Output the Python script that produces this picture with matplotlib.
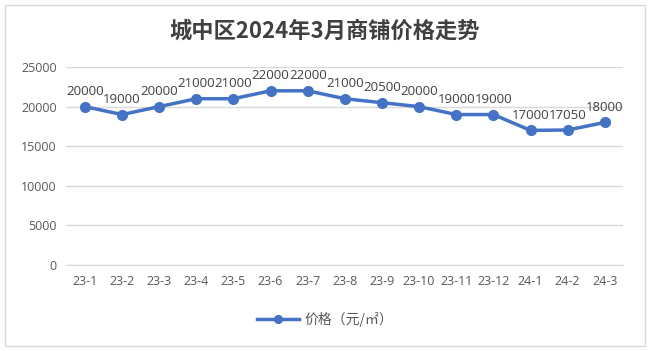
import matplotlib
matplotlib.use("Agg")
import matplotlib.pyplot as plt
from matplotlib.patches import Rectangle

plt.rcParams['font.family'] = ['Noto Sans CJK SC', 'DejaVu Sans']

months = ["23-1", "23-2", "23-3", "23-4", "23-5", "23-6", "23-7", "23-8",
          "23-9", "23-10", "23-11", "23-12", "24-1", "24-2", "24-3"]
prices = [20000, 19000, 20000, 21000, 21000, 22000, 22000, 21000,
          20500, 20000, 19000, 19000, 17000, 17050, 18000]
yticks = [0, 5000, 10000, 15000, 20000, 25000]

BLUE = "#4472C4"
GRID = "#d9d9d9"
TEXT = "#595959"

fig = plt.figure(figsize=(6.5, 3.51), dpi=100)
fig.patches.append(Rectangle((0.008, 0.014), 0.984, 0.972, transform=fig.transFigure,
                             fill=False, edgecolor=GRID, linewidth=1))
ax = fig.add_axes([0.102, 0.245, 0.857, 0.564])

x = list(range(len(months)))
ax.plot(x, prices, color=BLUE, linewidth=2.5, marker="o", markersize=7,
        label="价格（元/㎡）", zorder=3)
for xi, v in zip(x, prices):
    ax.annotate(str(v), (xi, v), xytext=(0, 6), textcoords="offset points",
                ha="center", va="bottom", fontsize=9.5, color="#404040",
                family=["Open Sans", "DejaVu Sans"])

ax.set_xlim(-0.5, len(months) - 0.5)
ax.set_ylim(0, 25000)
ax.set_yticks(yticks)
ax.set_xticks(x)
ax.set_xticklabels(months)
ax.grid(axis="y", color=GRID, linewidth=1)
ax.set_axisbelow(True)
for s in ["top", "right", "left"]:
    ax.spines[s].set_visible(False)
ax.spines["bottom"].set_color(GRID)
ax.tick_params(length=0, labelsize=9, colors=TEXT, pad=7)
for lbl in ax.get_xticklabels() + ax.get_yticklabels():
    lbl.set_family(["Open Sans", "DejaVu Sans"])

fig.text(0.5, 0.912, "城中区2024年3月商铺价格走势", ha="center", va="center",
         fontsize=16, fontweight="bold", color="#404040")
fig.legend(loc="center", bbox_to_anchor=(0.5, 0.09), frameon=False,
           fontsize=10, labelcolor=TEXT, handlelength=3, markerscale=0.8,
           handletextpad=0.4)

fig.savefig("out.png", dpi=100)
